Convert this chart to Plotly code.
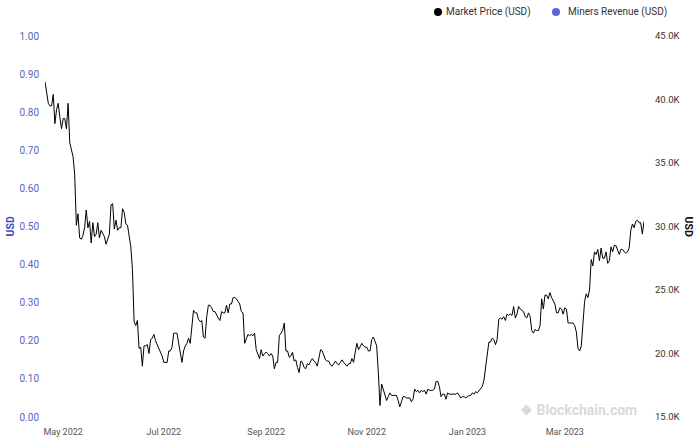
import pandas as pd
import plotly.graph_objects as go

# ---------------- data ----------------
start_date = "2022-04-20"
series_names = ["Market Price (USD)", "Miners Revenue (USD)"]
series_colors = ["#000000", "#5a66d6"]

# daily market price, thousands of USD (2022-04-20 .. 2023-04-18)
price_apr22 = [41.4, 40.5, 39.7, 39.5, 39.5, 40.4, 38.1, 39.2, 39.7, 38.6, 37.7]
price_may22 = [38.5, 38.5, 37.7, 39.7, 36.6, 36.0, 35.5, 34.1, 30.1, 31.0, 29.1, 29.0, 29.3, 29.9, 31.3, 29.9,
               30.4, 28.7, 30.3, 29.2, 29.4, 30.3, 29.1, 29.7, 29.5, 29.2, 28.6, 29.0, 29.4, 31.7, 31.8]
price_jun22 = [29.8, 30.5, 29.7, 29.9, 29.9, 31.4, 31.1, 30.2, 30.1, 29.1, 28.4, 26.6, 22.5, 22.2, 22.6, 20.4,
               20.5, 19.0, 20.6, 20.6, 20.7, 20.0, 21.1, 21.2, 21.5, 21.0, 20.7, 20.3, 20.1, 19.8]
price_jul22 = [19.3, 19.3, 19.3, 20.2, 20.2, 20.5, 21.6, 21.6, 21.6, 20.8, 19.9, 19.3, 20.2, 20.6, 20.8, 21.2,
               20.8, 22.4, 23.4, 23.2, 23.2, 22.7, 22.5, 22.6, 21.3, 21.2, 22.9, 23.8, 23.8, 23.6, 23.3]
price_aug22 = [23.3, 23.0, 22.8, 22.6, 23.3, 23.2, 23.2, 23.8, 23.2, 23.9, 23.9, 24.4, 24.4, 24.3, 24.1, 23.9,
               23.3, 23.2, 20.8, 21.1, 21.5, 21.4, 21.5, 21.4, 21.6, 20.3, 20.0, 19.6, 20.3, 19.8, 20.0]
price_sep22 = [20.1, 20.0, 19.8, 20.0, 19.8, 18.8, 19.3, 19.3, 21.4, 21.6, 21.8, 22.4, 20.2, 20.2, 19.7, 19.8,
               20.1, 19.4, 19.5, 18.9, 18.5, 19.4, 19.3, 18.9, 18.8, 19.2, 19.1, 19.4, 19.6, 19.4]
price_oct22 = [19.3, 19.0, 19.6, 20.3, 20.2, 19.9, 19.5, 19.4, 19.4, 19.1, 19.0, 19.2, 19.4, 19.2, 19.1, 19.3,
               19.5, 19.3, 19.1, 19.0, 19.2, 19.2, 19.6, 19.3, 20.1, 20.8, 20.3, 20.6, 20.8, 20.6, 20.5]
price_nov22 = [20.5, 20.2, 20.2, 21.1, 21.3, 20.9, 20.6, 18.5, 15.9, 17.6, 17.1, 16.8, 16.3, 16.6, 16.9, 16.7,
               16.7, 16.7, 16.7, 16.3, 15.8, 16.2, 16.6, 16.6, 16.5, 16.5, 16.5, 16.2, 16.4, 17.2]
price_dec22 = [17.0, 17.1, 16.9, 17.1, 17.0, 17.1, 16.8, 17.2, 17.1, 17.1, 17.1, 17.2, 17.8, 17.8, 17.4, 16.6,
               16.8, 16.8, 16.4, 16.9, 16.8, 16.8, 16.8, 16.8, 16.8, 16.9, 16.7, 16.5, 16.6, 16.6, 16.5]
price_jan23 = [16.6, 16.7, 16.7, 16.9, 16.8, 17.0, 16.9, 17.1, 17.2, 17.4, 17.9, 18.8, 19.9, 20.9, 20.9, 21.2,
               21.1, 20.7, 21.1, 22.7, 22.8, 22.7, 22.9, 22.6, 23.1, 23.0, 23.1, 23.0, 23.7, 22.8, 23.1]
price_feb23 = [23.7, 23.5, 23.4, 23.3, 22.9, 22.8, 23.2, 22.9, 21.8, 21.6, 21.9, 21.8, 21.8, 22.2, 24.3, 23.5,
               24.6, 24.6, 24.3, 24.8, 24.4, 24.2, 23.9, 23.2, 23.2, 23.6, 23.5, 23.1]
price_mar23 = [23.6, 23.5, 22.4, 22.4, 22.4, 22.4, 22.2, 21.7, 20.4, 20.2, 20.6, 22.2, 24.1, 24.7, 24.4, 25.0,
               27.4, 26.9, 28.0, 27.8, 28.2, 27.3, 28.3, 27.5, 27.5, 28.0, 27.1, 27.3, 28.4, 28.0, 28.5]
price_apr23 = [28.5, 28.2, 27.8, 28.2, 28.2, 28.0, 27.9, 28.0, 28.3, 29.7, 30.2, 29.9, 30.4, 30.5, 30.3, 30.3,
               29.4, 30.4]

market_price = (price_apr22 + price_may22 + price_jun22 + price_jul22 + price_aug22 + price_sep22 +
                price_oct22 + price_nov22 + price_dec22 + price_jan23 + price_feb23 + price_mar23 + price_apr23)
dates = pd.date_range(start_date, periods=len(market_price), freq="D")

miners_revenue = []  # no data shown

x_tick_vals = ["2022-05-01", "2022-07-01", "2022-09-01", "2022-11-01", "2023-01-01", "2023-03-01"]
x_tick_text = ["May 2022", "Jul 2022", "Sep 2022", "Nov 2022", "Jan 2023", "Mar 2023"]
left_tick_vals = [0.0, 0.1, 0.2, 0.3, 0.4, 0.5, 0.6, 0.7, 0.8, 0.9, 1.0]
right_tick_vals = [15, 20, 25, 30, 35, 40, 45]
right_tick_text = ["15.0K", "20.0K", "25.0K", "30.0K", "35.0K", "40.0K", "45.0K"]

# ---------------- figure ----------------
FONT = "Roboto, Liberation Sans, Arial, sans-serif"
fig = go.Figure()
fig.add_trace(go.Scatter(x=list(dates), y=market_price, mode="lines", name=series_names[0],
                         line=dict(color=series_colors[0], width=1), yaxis="y2", showlegend=False))
fig.add_trace(go.Scatter(x=[], y=miners_revenue, mode="lines", name=series_names[1],
                         line=dict(color=series_colors[1], width=1), yaxis="y", showlegend=False))

W, H = 698, 441
ml, mr, mt, mb = 45, 54, 36, 24

fig.update_layout(
    width=W, height=H,
    margin=dict(l=ml, r=mr, t=mt, b=mb, pad=0, autoexpand=False),
    paper_bgcolor="white", plot_bgcolor="white",
    font=dict(family=FONT, size=10, color="#333333"),
    showlegend=False,
    xaxis=dict(
        type="date", range=[dates[0], dates[-1]],
        tickvals=x_tick_vals, ticktext=x_tick_text,
        showgrid=False, zeroline=False, showline=False, ticks="",
        tickfont=dict(size=9, color="#555555", family=FONT),
        ticklabelstandoff=8, automargin=False,
    ),
    yaxis=dict(
        range=[0, 1], tickvals=left_tick_vals, tickformat=".2f",
        showgrid=False, zeroline=False, showline=False, ticks="",
        tickfont=dict(size=10, color="#5563c4", family=FONT),
        ticklabelstandoff=5, automargin=False,
    ),
    yaxis2=dict(
        range=[15, 45], tickvals=right_tick_vals, ticktext=right_tick_text,
        overlaying="y", side="right",
        showgrid=False, zeroline=False, showline=False, ticks="",
        tickfont=dict(size=9.5, color="#333333", family=FONT),
        ticklabelstandoff=10, automargin=False,
    ),
)

annotations = [
    # axis titles
    dict(text="<b>USD</b>", xref="paper", yref="paper", x=0, y=0.5, xshift=-(ml - 10),
         xanchor="center", yanchor="middle",
         textangle=-90, showarrow=False, font=dict(size=10.5, color="#3d4fb8", family=FONT)),
    dict(text="<b>USD</b>", xref="paper", yref="paper", x=1, y=0.5, xshift=(688 - (W - mr)),
         xanchor="center", yanchor="middle",
         textangle=90, showarrow=False, font=dict(size=10.5, color="#111111", family=FONT)),
    # legend labels
    dict(text=series_names[0], xref="paper", yref="paper", x=0, y=1, xshift=444 - ml, yshift=mt - 12,
         xanchor="left", yanchor="middle", showarrow=False, font=dict(size=10, color="#333333", family=FONT)),
    dict(text=series_names[1], xref="paper", yref="paper", x=0, y=1, xshift=566 - ml, yshift=mt - 12,
         xanchor="left", yanchor="middle", showarrow=False, font=dict(size=10, color="#333333", family=FONT)),
    # watermark
    dict(text="<b>❖ Blockchain.com</b>", xref="paper", yref="paper", x=0, y=0, xshift=639 - ml, yshift=7,
         xanchor="right", yanchor="middle", showarrow=False, font=dict(size=14, color="#d9d9d9", family=FONT)),
]
fig.update_layout(annotations=annotations)

# legend dots
shapes = []
for cx, col in [(438, series_colors[0]), (556, series_colors[1])]:
    shapes.append(dict(type="circle", xref="paper", yref="paper", xsizemode="pixel", ysizemode="pixel",
                       xanchor=0, yanchor=1, x0=cx - ml - 4, x1=cx - ml + 4,
                       y0=mt - 12 - 4, y1=mt - 12 + 4, fillcolor=col, line=dict(width=0)))
fig.update_layout(shapes=shapes)

fig.write_html("out.html", config={"displayModeBar": False},
               post_script="document.body.style.margin='0';")
